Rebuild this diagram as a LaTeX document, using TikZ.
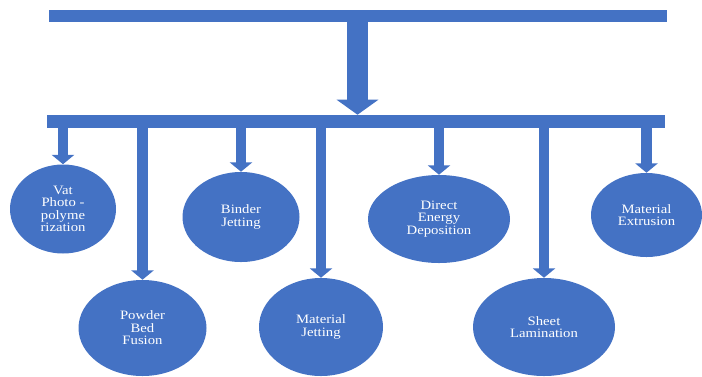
\documentclass[tikz,border=0pt]{standalone}
\usepackage{fontspec}
\setmainfont{Liberation Serif}[FakeStretch=1.15]
\definecolor{amblue}{RGB}{68,114,196}
\usetikzlibrary{shapes.geometric,arrows.meta}

\begin{document}
\begin{tikzpicture}[
        x=0.75pt,y=-0.75pt,
        bar/.style={fill=amblue,inner sep=0pt,minimum height=9pt},
        proc/.style={ellipse,fill=amblue,inner sep=0pt,text=white,align=center,
            font=\fontsize{9.6}{9.4}\selectfont},
        bigarrow/.style={draw=amblue,line width=15.75pt,-{Triangle[width=30.75pt,length=11.25pt]}},
        subarrow/.style={draw=amblue,line width=8pt,-{Triangle[width=16.5pt,length=7pt]}},
    ]
    \useasboundingbox (0,0) rectangle (702,376);

    \node[bar,minimum width=463.5pt] (top) at (357.5,16) {};
    \node[bar,minimum width=463.5pt,minimum height=9.75pt] (row) at (356,121.5) {};

    \node[proc,minimum width=79.5pt,minimum height=66.75pt] (vat) at (63,209)
        {Vat\\Photo -\\polyme\\rization};
    \node[proc,minimum width=96pt,minimum height=72pt] (pbf) at (142.5,328)
        {Powder\\Bed\\Fusion};
    \node[proc,minimum width=87.75pt,minimum height=67.5pt] (binder) at (241,217)
        {Binder\\Jetting};
    \node[proc,minimum width=93pt,minimum height=73.5pt] (mjet) at (321,327)
        {Material\\Jetting};
    \node[proc,minimum width=106.5pt,minimum height=66pt] (ded) at (439,219)
        {Direct\\Energy\\Deposition};
    \node[proc,minimum width=106.5pt,minimum height=73.5pt] (sheet) at (544,327)
        {Sheet\\Lamination};
    \node[proc,minimum width=83.25pt,minimum height=63pt] (mex) at (646.5,215)
        {Material\\Extrusion};

    \draw[bigarrow] (top.south) -- (top.south |- row.north);
    \draw[subarrow] (row.south -| vat.north) -- (vat.north);
    \draw[subarrow] (row.south -| pbf.north) -- (pbf.north);
    \draw[subarrow] (row.south -| binder.north) -- (binder.north);
    \draw[subarrow] (row.south -| mjet.north) -- (mjet.north);
    \draw[subarrow] (row.south -| ded.north) -- (ded.north);
    \draw[subarrow] (row.south -| sheet.north) -- (sheet.north);
    \draw[subarrow] (row.south -| mex.north) -- (mex.north);
\end{tikzpicture}
\end{document}
